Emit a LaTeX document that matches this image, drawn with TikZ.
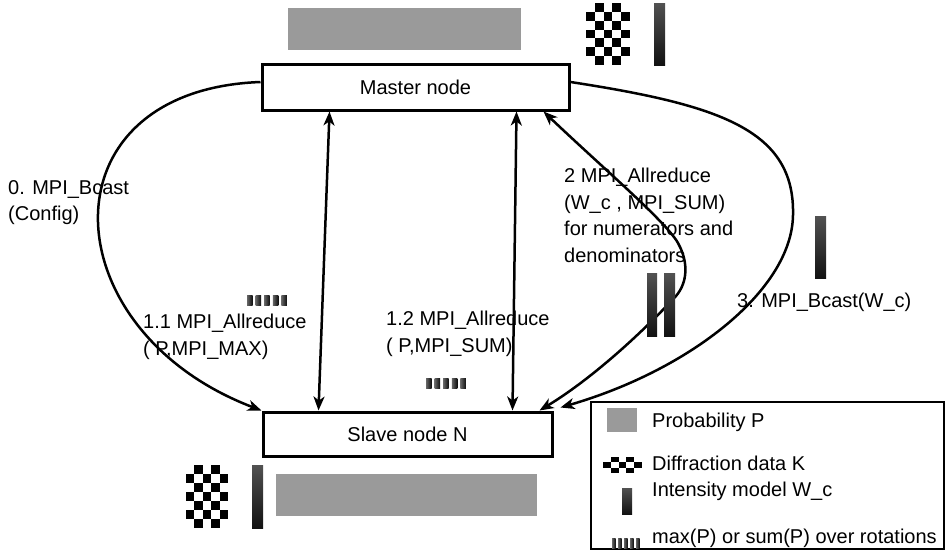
\documentclass[tikz,border=0pt]{standalone}
\usepackage{fontspec}
\setmainfont{Liberation Sans}
\usetikzlibrary{arrows.meta}

\definecolor{probgray}{RGB}{154,154,154}

% checkerboard: left, top, cell width, cell height, columns, rows
\newcommand\chessgrid[6]{%
  \foreach \i in {1,...,#5}{%
    \foreach \j in {1,...,#6}{%
      \pgfmathtruncatemacro\chk{mod(\i+\j,2)}%
      \ifnum\chk=1
        \fill[black] ({#1+(\i-1)*#3},{#2+(\j-1)*#4}) rectangle ++(#3,#4);
      \fi
    }%
  }%
}
% row of five short bars: left, top, bar width, period, height
\newcommand\tickrow[5]{%
  \foreach \k in {0,...,4}{%
    \shade[left color=black!60, right color=black!95]
      ({#1+\k*#4},#2) rectangle ++(#3,#5);
  }%
}

\begin{document}
\begin{tikzpicture}[x=1pt, y=-1pt,
  >={Stealth[length=14pt, width=11pt, inset=4pt]},
  procbox/.style={draw, line width=3pt, rectangle, inner sep=0pt,
    font=\fontsize{20}{24}\selectfont},
  link/.style={line width=2.5pt},
  lbl/.style={inner sep=0pt, anchor=north west, align=left,
    font=\fontsize{20}{26.5}\selectfont},
  keytext/.style={inner sep=0pt, anchor=base west,
    font=\fontsize{20}{24}\selectfont},
  wbar/.style={top color=black!68, bottom color=black!93},
  pbar/.style={fill=probgray}]

\useasboundingbox (0,0) rectangle (947,552);

% data held by the master
\fill[pbar] (288,8) rectangle (521,50);
\chessgrid{586}{3}{8.8}{8.86}{5}{7}
\shade[wbar] (654,3) rectangle (665,65);

% data held by a slave
\chessgrid{186}{465}{8.4}{9}{5}{7}
\shade[wbar] (252,465) rectangle (263,528);
\fill[pbar] (276,474) rectangle (537,516);

% nodes
\node[procbox, minimum width=307pt, minimum height=46pt] (master) at (415.5,87) {Master node};
\node[procbox, minimum width=289pt, minimum height=44pt] (slave) at (407.5,434) {Slave node N};

% communication steps
\draw[link, ->] ([yshift=5pt]master.west)
  .. controls (40,90) and (50,330) .. (slave.north west);
\draw[link, <->] ([xshift=69pt]master.south west) -- ([xshift=57pt]slave.north west);
\draw[link, <->] ([xshift=256pt]master.south west) -- ([xshift=251pt]slave.north west);
\draw[link, <->] ([xshift=283pt]master.south west)
  .. controls (605,170) and (670,225) .. (679,245)
  .. controls (688,262) and (688,282) .. (676,296)
  .. controls (640,335) and (590,380) .. ([xshift=278pt]slave.north west);
\draw[link, ->] ([yshift=5pt]master.east)
  .. controls (720,105) and (795,130) .. (793,215)
  .. controls (792,290) and (690,370) .. ([xshift=7pt,yshift=3pt]slave.north east);

% labels
\node[lbl] (l0) at (8,180) {0. MPI\_Bcast\\(Config)};
\node[lbl] (l11) at (143,314) {1.1 MPI\_Allreduce\\( P,MPI\_MAX)};
\node[lbl] (l12) at (386,311) {1.2 MPI\_Allreduce\\( P,MPI\_SUM)};
\node[lbl] (l2) at (564,168) {2 MPI\_Allreduce\\(W\_c , MPI\_SUM)\\for numerators and\\denominators};
\node[lbl] (l3) at (737,293) {3. MPI\_Bcast(W\_c)};

% reduced quantities and model slices in transit
\tickrow{247}{295}{5.5}{8.6}{10}
\tickrow{426}{378}{5.5}{8.6}{10}
\shade[wbar] (647,273) rectangle (657,336);
\shade[wbar] (664,273) rectangle (675,336);
\shade[wbar] (815,216) rectangle (826,278);

% legend
\node[draw, line width=2.6pt, inner sep=0pt, minimum width=353pt, minimum height=147pt]
  (legend) at (767.5,475.5) {};
\fill[pbar] (607,408) rectangle (637,432);
\node[keytext] (k1) at (652,427) {Probability P};
\chessgrid{603}{457}{7.8}{5.4}{5}{3}
\node[keytext] (k2) at (652,470) {Diffraction data K};
\shade[wbar] (622,488) rectangle (632,514);
\node[keytext] (k3) at (652,496) {Intensity model W\_c};
\tickrow{612}{538}{3.6}{6}{10}
\node[keytext] (k4) at (652,543) {max(P) or sum(P) over rotations};

\end{tikzpicture}
\end{document}
